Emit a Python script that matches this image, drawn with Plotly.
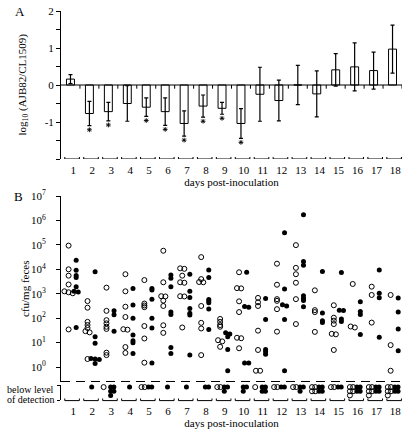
import plotly.graph_objects as go

# ---------------- data ----------------
days = list(range(1, 19))

# Panel A: log10(AJB82/CL1509), mean and error
ratio_log10 = [0.16, -0.77, -0.72, -0.50, -0.60, -0.72, -1.04, -0.57, -0.63,
               -1.04, -0.25, -0.42, 0.00, -0.24, 0.41, 0.49, 0.39, 0.97]
ratio_err = [0.12, 0.33, 0.25, 0.48, 0.25, 0.37, 0.34, 0.30, 0.16,
             0.40, 0.73, 0.55, 0.53, 0.62, 0.44, 0.65, 0.50, 0.65]
significant_days = [2, 3, 5, 6, 7, 8, 9, 10]

# Panel B: log10 cfu/mg feces for each day (open and filled symbols)
open_log10 = [
    [4.97, 4.00, 3.74, 3.38, 3.10, 3.06, 3.02, 1.54],
    [2.70, 2.43, 1.85, 1.72, 1.60, 1.47, 1.42, 0.33],
    [3.25, 2.30, 1.92, 1.79, 1.65, 1.56, 0.59, 0.49],
    [3.80, 3.10, 2.47, 2.05, 1.55, 1.53, 0.82, 0.58],
    [3.56, 2.60, 2.52, 2.45, 1.68, 1.17, 0.18],
    [4.76, 3.47, 2.90, 2.89, 2.72, 2.50, 1.71, 1.40],
    [4.04, 4.02, 3.74, 3.47, 3.45, 2.90, 2.89, 1.62],
    [4.50, 3.60, 3.48, 3.47, 2.50, 1.81, 1.58, 0.49],
    [1.97, 1.85, 1.72, 1.65, 1.10, 1.05, 0.83],
    [3.88, 3.23, 3.22, 2.69, 2.25, 1.20, 1.18, 0.77],
    [2.83, 2.65, 2.50, 1.49, 0.70, -0.15, -0.15],
    [4.23, 3.37, 2.78, 2.71, 2.37, 1.45],
    [4.99, 4.06, 3.80, 3.45, 2.78, 1.76],
    [3.14, 2.33, 2.25, 1.44],
    [2.53, 2.02, 1.90, 1.76, 1.36, 1.34, 0.70],
    [3.40, 1.66, 1.62],
    [3.29, 2.95, 1.82],
    [2.95, 0.90, -0.15],
]
filled_log10 = [
    [4.37, 3.96, 3.75, 3.67, 3.29, 3.10, 3.07, 1.62],
    [3.90, 1.24, 0.97, 0.35, 0.33, 0.31, 0.15],
    [2.30, 2.14, 1.47],
    [3.22, 2.54, 2.00, 1.31, 1.08, 1.00, 0.56],
    [3.22, 3.15, 2.78, 2.00, 1.60, 0.17],
    [3.77, 3.63, 3.29, 2.25, 2.15, 0.80, 0.56],
    [3.80, 3.10, 2.85, 2.40, 2.20, 2.13, 0.49],
    [3.97, 3.67, 2.77, 2.70, 2.63, 2.38, 1.54],
    [1.40, 1.35, 1.24, 0.72, -0.15],
    [3.88, 2.48, 2.45, 0.17, 0.17],
    [2.81, 1.95, 0.72, 0.63, 0.53],
    [5.50, 3.19, 2.55, 2.50, 1.95, -0.15],
    [6.23, 4.32, 4.17, 2.92, 2.82, 2.72, 2.47],
    [3.91, 2.21, 1.90, 1.82],
    [3.87, 2.33, 2.32, 1.97, 1.86],
    [2.67, 2.27, 2.15, 1.33],
    [3.97, 3.02, 2.84, 1.22],
    [2.83, 2.25, 1.56, 0.67],
]
# counts of animals below the level of detection
open_below = [0, 0, 1, 0, 2, 0, 0, 0, 2, 0, 1, 2, 2, 4, 2, 5, 5, 5]
filled_below = [0, 1, 5, 1, 2, 1, 1, 2, 3, 3, 4, 2, 3, 4, 2, 4, 4, 4]

y_ticks_a = [-1, 0, 1, 2]
y_ticklabels_a = ["-1", "0", "1", "2"]
decades_b = list(range(0, 8))

# ---------------- helpers ----------------
FONT = "Liberation Serif"
W, H = 418, 435
ML, MR, MT, MB = 61, 16, 11, 35
PW, PH = W - ML - MR, H - MT - MB    # 341 x 389 plot area
STAR_GAP = 0.11                      # gap below error bar, in panel-A units


def fx(px):   # image pixel -> paper x
    return (px - ML) / PW


def fy(py):   # image pixel -> paper y
    return (H - MB - py) / PH


def dodge(values, base, spacing=0.22, tol=0.055):
    vals = sorted(values, reverse=True)
    clusters = []
    for v in vals:
        if clusters and clusters[-1][-1] - v <= tol:
            clusters[-1].append(v)
        else:
            clusters.append([v])
    xs, ys = [], []
    for c in clusters:
        n = len(c)
        for i, v in enumerate(c):
            xs.append(base + (i - (n - 1) / 2) * spacing)
            ys.append(10 ** v)
    return xs, ys


def grid(count, base, spacing=0.17):
    xs, ys = [], []
    for k in range(count):
        xs.append(base + (k % 2) * spacing)
        ys.append(k // 2)
    return xs, ys


fig = go.Figure()

# ---------------- panel A ----------------
fig.add_trace(go.Bar(
    x=days, y=ratio_log10, width=0.42, textposition="none",
    marker=dict(color="white", line=dict(color="black", width=1)),
    error_y=dict(type="data", array=ratio_err, visible=True,
                 color="black", thickness=1.2, width=2),
    xaxis="x", yaxis="y", showlegend=False,
))
star_x = [d for d in days if d in significant_days]
star_y = [ratio_log10[d - 1] - ratio_err[d - 1] - STAR_GAP for d in star_x]
fig.add_trace(go.Scatter(
    x=star_x, y=star_y, mode="markers",
    marker=dict(symbol="asterisk-open", size=4, color="black",
                line=dict(width=0.9, color="black")),
    xaxis="x", yaxis="y", showlegend=False, cliponaxis=False,
))

# ---------------- panel B ----------------
ox, oy, fxs, fys = [], [], [], []
for i, d in enumerate(days):
    a, b = dodge(open_log10[i], d - 0.1)
    ox += a
    oy += b
    a, b = dodge(filled_log10[i], d + 0.3)
    fxs += a
    fys += b

fig.add_trace(go.Scatter(
    x=ox, y=oy, mode="markers",
    marker=dict(symbol="circle-open", size=5, color="black", line=dict(width=1)),
    xaxis="x2", yaxis="y2", showlegend=False, cliponaxis=False,
))
fig.add_trace(go.Scatter(
    x=fxs, y=fys, mode="markers",
    marker=dict(symbol="circle", size=5, color="black"),
    xaxis="x2", yaxis="y2", showlegend=False, cliponaxis=False,
))

box, boy, bfx, bfy = [], [], [], []
for i, d in enumerate(days):
    a, b = grid(open_below[i], d - 0.25)
    box += a
    boy += b
    a, b = grid(filled_below[i], d + 0.12)
    bfx += a
    bfy += b
fig.add_trace(go.Scatter(
    x=box, y=boy, mode="markers",
    marker=dict(symbol="circle-open", size=5, color="black", line=dict(width=1)),
    xaxis="x2", yaxis="y3", showlegend=False, cliponaxis=False,
))
fig.add_trace(go.Scatter(
    x=bfx, y=bfy, mode="markers",
    marker=dict(symbol="circle", size=5, color="black"),
    xaxis="x2", yaxis="y3", showlegend=False, cliponaxis=False,
))

# ---------------- shapes ----------------
shapes = []
shapes.append(dict(type="line", xref="x domain", yref="y", x0=0, x1=1, y0=0, y1=0,
                   line=dict(color="black", width=1)))
for d in days:
    shapes.append(dict(type="line", xref="x", yref="y", x0=d + 0.5, x1=d + 0.5,
                       y0=0, y1=-0.1, line=dict(color="black", width=1)))
for d in days:
    x0, x1 = d - 0.3, d + 0.47
    shapes.append(dict(type="path", xref="x", yref="y",
                       path=f"M {x0},-1.945 L {x0},-2 L {x1},-2 L {x1},-1.945",
                       line=dict(color="black", width=1)))
    shapes.append(dict(type="path", xref="x2", yref="y3 domain",
                       path=f"M {x0},0.1 L {x0},-0.04 L {x1},-0.04 L {x1},0.1",
                       line=dict(color="black", width=1)))
shapes.append(dict(type="line", xref="x2 domain", yref="y2 domain", x0=0, x1=1,
                   y0=0, y1=0, line=dict(color="black", width=1, dash="9px,6px")))

# ---------------- annotations ----------------
def note(text, px, py, size=11, angle=0, xanchor="center"):
    return dict(text=text, x=fx(px), y=fy(py), xref="paper", yref="paper",
                xanchor=xanchor, yanchor="middle", textangle=angle,
                showarrow=False, font=dict(family=FONT, size=size, color="black"))


ann = [
    note("A", 20, 11, size=13),
    note("B", 18, 196, size=13),
    note("log<sub>10</sub> (AJB82/CL1509)", 22.5, 85, angle=-90),
    note("cfu/mg feces", 25, 289, angle=-90),
    note("below level", 56, 389, size=10, xanchor="right"),
    note("of detection", 56, 399, size=10, xanchor="right"),
]

tickfont = dict(family=FONT, size=11, color="black")
common_x = dict(range=[0.5, 18.5], tickvals=[d + 0.15 for d in days],
                ticktext=[str(d) for d in days], ticks="", showline=False,
                showgrid=False, zeroline=False, tickfont=tickfont,
                ticklabelstandoff=3,
                title=dict(text="days post-inoculation",
                           font=dict(family=FONT, size=11, color="black"),
                           standoff=1))

fig.update_layout(
    width=W, height=H,
    margin=dict(l=ML, r=MR, t=MT, b=MB, autoexpand=False),
    paper_bgcolor="white", plot_bgcolor="white",
    font=dict(family=FONT, size=11, color="black"),
    showlegend=False,
    xaxis=dict(domain=[0, 1], anchor="y", **common_x),
    xaxis2=dict(domain=[0, 1], anchor="y3", **common_x),
    yaxis=dict(domain=[fy(159), 1], anchor="x", range=[-2, 2],
               tickvals=y_ticks_a, ticktext=y_ticklabels_a,
               ticks="outside", ticklen=4, tickcolor="black",
               minor=dict(ticks="outside", ticklen=4, tickcolor="black",
                          tick0=0, dtick=0.5),
               showline=True, linecolor="black", linewidth=1,
               showgrid=False, zeroline=False, tickfont=tickfont),
    yaxis2=dict(domain=[fy(381.5), fy(196)], anchor="x2", type="log",
                range=[-0.59, 7],
                tickvals=[10 ** k for k in decades_b],
                ticktext=[f"10<sup>{k}</sup>" for k in decades_b],
                ticks="outside", ticklen=4, tickcolor="black",
                showline=True, linecolor="black", linewidth=1,
                showgrid=False, zeroline=False, tickfont=tickfont,
                ticklabelstandoff=8),
    yaxis3=dict(domain=[0, fy(385)], anchor="x2", range=[3.1, -0.5],
                tickvals=[3.1, -0.5], showticklabels=False,
                ticks="outside", ticklen=3, tickcolor="black",
                showline=True, linecolor="black", linewidth=1,
                showgrid=False, zeroline=False),
    shapes=shapes,
    annotations=ann,
)

fig.write_html(
    "out.html",
    config={"displayModeBar": False, "staticPlot": True},
    post_script="document.body.style.margin='0';document.body.style.overflow='hidden';",
)
